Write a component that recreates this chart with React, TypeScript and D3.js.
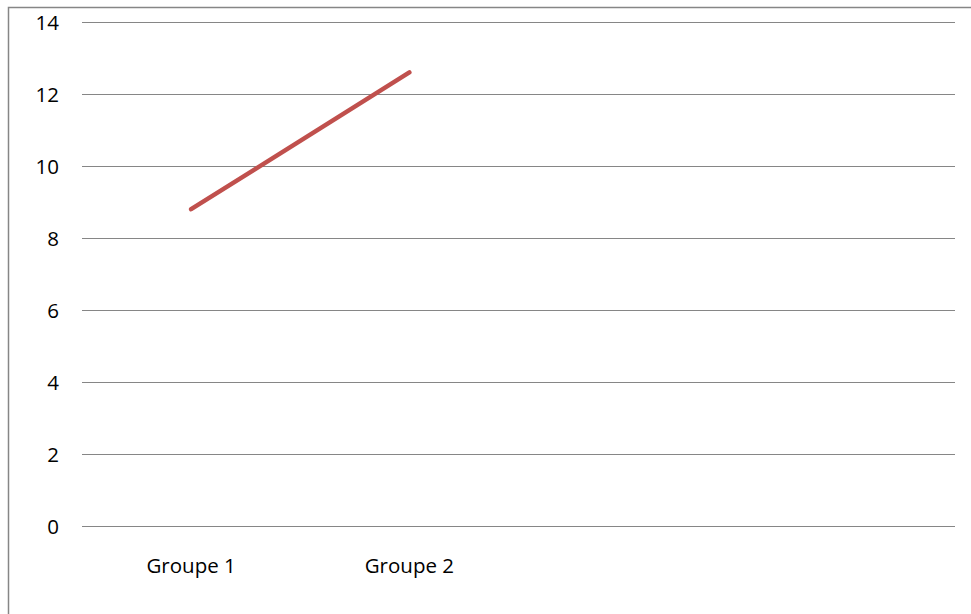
import React from "react";
import * as d3 from "d3";

// Categories along the x axis (the last two slots carry no label and no data)
const categories: string[] = ["Groupe 1", "Groupe 2", "", ""];
// Series values, one per category (null = no point)
const seriesValues: (number | null)[] = [8.8, 12.6, null, null];
// Y axis ticks
const yTicks: number[] = [0, 2, 4, 6, 8, 10, 12, 14];

const W = 971;
const H = 614;
const plot = { left: 82, right: 955, top: 22, bottom: 526 };
const FONT = "'Open Sans', 'Liberation Sans', sans-serif";

export default function App() {
  const x = d3
    .scaleBand<number>()
    .domain(categories.map((_, i) => i))
    .range([plot.left, plot.right])
    .paddingInner(0)
    .paddingOuter(0);
  const y = d3.scaleLinear().domain([0, 14]).range([plot.bottom, plot.top]);

  const pts = seriesValues
    .map((v, i) => ({ v, i }))
    .filter((d) => d.v !== null) as { v: number; i: number }[];

  const line = d3
    .line<{ v: number; i: number }>()
    .x((d) => (x(d.i) as number) + x.bandwidth() / 2)
    .y((d) => y(d.v));

  return (
    <svg
      width={W}
      height={H}
      style={{ position: "absolute", left: 0, top: 0, background: "#fff" }}
    >
      {/* chart area frame */}
      <rect
        x={8.5}
        y={7.5}
        width={W + 20}
        height={H + 20}
        fill="#fff"
        stroke="#868686"
        strokeWidth={1.5}
      />
      {/* horizontal gridlines and y tick labels */}
      {yTicks.map((t) => (
        <g key={t}>
          <line
            x1={plot.left}
            x2={plot.right}
            y1={Math.round(y(t)) + 0.5}
            y2={Math.round(y(t)) + 0.5}
            stroke="#868686"
            strokeWidth={1}
          />
          <text
            x={59}
            y={y(t) + 7.5}
            textAnchor="end"
            fontFamily={FONT}
            fontSize={20.5}
            fill="#000"
          >
            {t}
          </text>
        </g>
      ))}
      {/* category labels */}
      {categories.map((c, i) => (
        <text
          key={i}
          x={(x(i) as number) + x.bandwidth() / 2}
          y={573}
          textAnchor="middle"
          fontFamily={FONT}
          fontSize={20.5}
          fill="#000"
        >
          {c}
        </text>
      ))}
      {/* series line */}
      <path
        d={line(pts) ?? ""}
        fill="none"
        stroke="#C0504D"
        strokeWidth={4.5}
        strokeLinecap="round"
        strokeLinejoin="round"
      />
    </svg>
  );
}
